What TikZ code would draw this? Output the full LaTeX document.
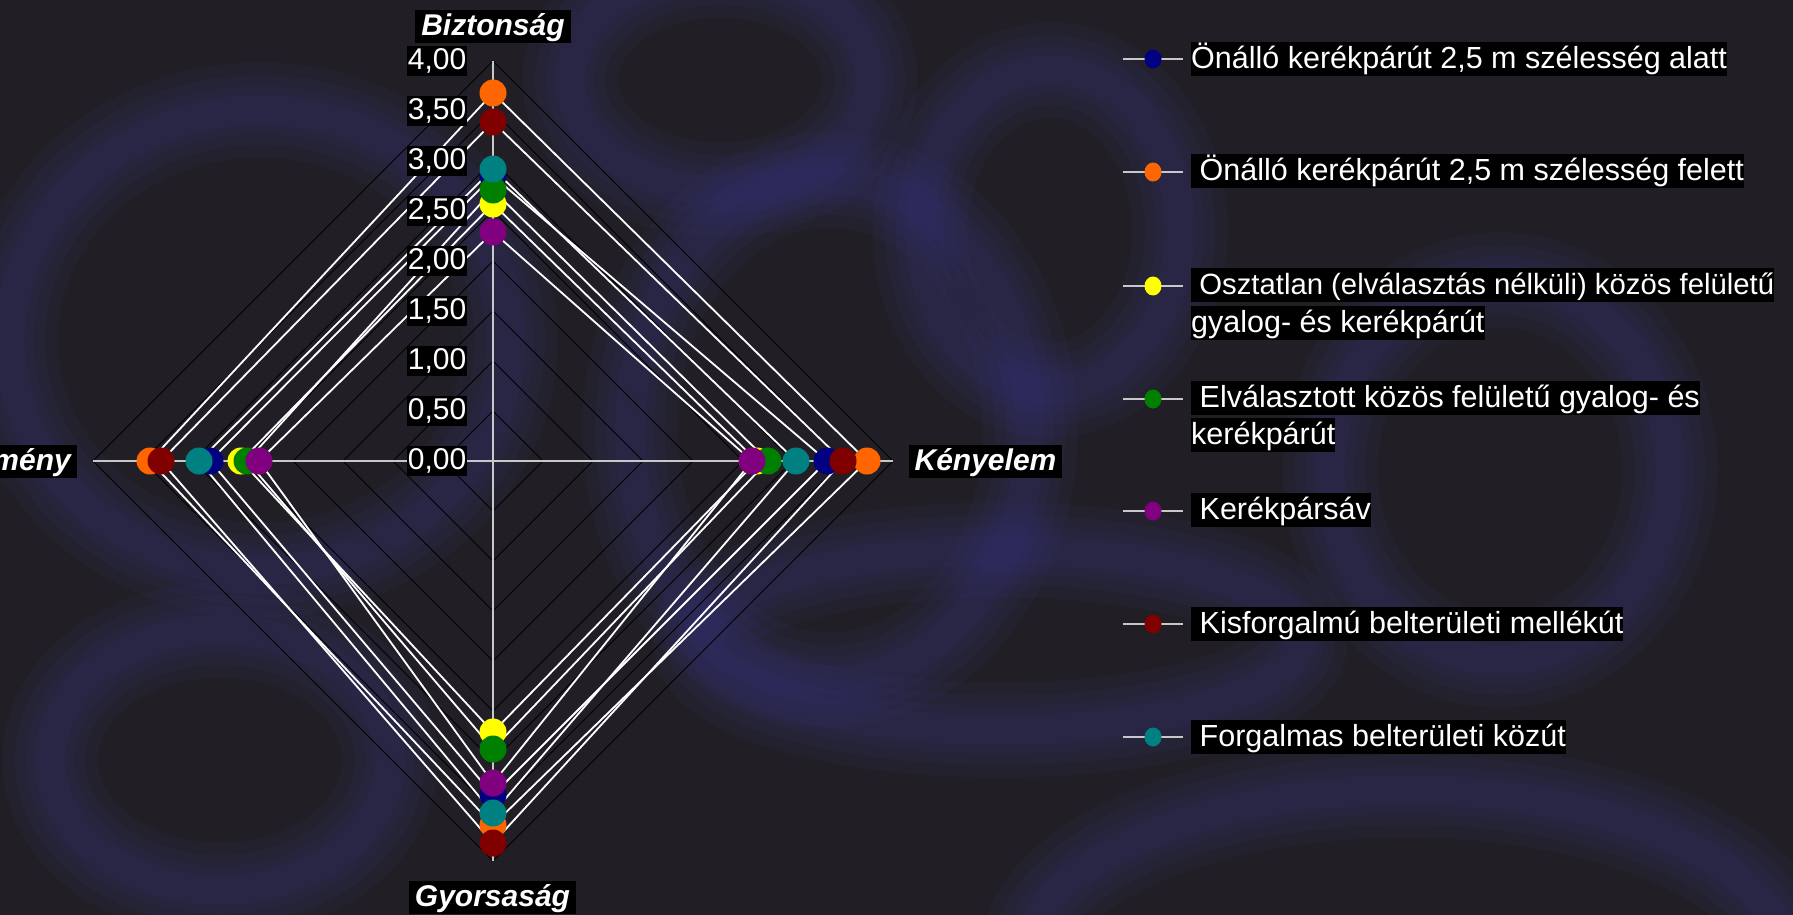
\documentclass[tikz,border=0pt]{standalone}
\usepackage{fontspec}
\setmainfont{Liberation Sans}
\usetikzlibrary{shapes.geometric}
\definecolor{bgc}{HTML}{211F25}
\definecolor{bluebg}{HTML}{3C3A8E}
\definecolor{cnavy}{HTML}{000080}
\definecolor{corange}{HTML}{FF6600}
\definecolor{cyellow}{HTML}{FFFF00}
\definecolor{cgreen}{HTML}{008000}
\definecolor{cpurple}{HTML}{800080}
\definecolor{cdred}{HTML}{800000}
\definecolor{cteal}{HTML}{008080}
\definecolor{axisgray}{HTML}{C8C8C8}
\tikzset{
  bgstroke/.style={draw=bluebg, line width=#1, opacity=0.09, line cap=round},
  gridline/.style={draw=black, line width=0.8pt},
  axisline/.style={draw=axisgray, line width=1.5pt},
  dataline/.style={draw=white, line width=1.8pt, line join=round},
  mk/.style={circle, inner sep=0pt, minimum size=27pt, draw=none},
  ylab/.style={fill=black, text=white, inner xsep=0.5pt, inner ysep=1.5pt, text height=22pt, text depth=5pt, font=\fontsize{30}{34}\selectfont, anchor=east},
  axlab/.style={fill=black, text=white, inner xsep=6pt, inner ysep=0pt, text height=26pt, text depth=7pt, font=\fontsize{30}{34}\selectfont\bfseries\itshape},
  legtext/.style={fill=black, text=white, inner sep=0pt, text height=26.5pt, text depth=7.5pt, anchor=west, font=\fontsize{30.5}{37}\selectfont},
  legline/.style={draw=axisgray, line width=1.5pt},
  legmk/.style={ellipse, inner sep=0pt, minimum width=17pt, minimum height=19pt, draw=none}
}
\begin{document}
\begin{tikzpicture}[x=1pt,y=-1pt]
\useasboundingbox (0,0) rectangle (1793,915);
\clip (0,0) rectangle (1793,915);
\fill[bgc] (0,0) rectangle (1793,915);
% background photo impression (blurred blue wheels)
\foreach \w in {95,70,48,30}{
  \draw[bgstroke=\w] (830,430) ellipse [x radius=200, y radius=250];
  \draw[bgstroke=\w] (260,340) ellipse [x radius=250, y radius=230];
  \draw[bgstroke=\w] (1406,960) ellipse [x radius=380, y radius=170];
  \draw[bgstroke=\w] (1500,470) ellipse [x radius=170, y radius=190];
  \draw[bgstroke=\w] (220,760) ellipse [x radius=170, y radius=130];
  \draw[bgstroke=\w] (720,80) ellipse [x radius=150, y radius=110];
  \draw[bgstroke=\w] (1050,230) ellipse [x radius=130, y radius=160];
  \draw[bgstroke=\w] (1000,640) ellipse [x radius=300, y radius=90];
}
% radar geometry
\coordinate (C) at (493,461);
\coordinate (T) at (493,61);
\coordinate (R) at (893,461);
\coordinate (B) at (493,861);
\coordinate (L) at (93,461);
\foreach \r in {50,100,...,400}
  \draw[gridline] (493,461-\r) -- (493+\r,461) -- (493,461+\r) -- (493-\r,461) -- cycle;
\draw[axisline] (C) -- (T);
\draw[axisline] (C) -- (R);
\draw[axisline] (C) -- (B);
\draw[axisline] (C) -- (L);
% data series: top / right / bottom / left
\foreach \n/\a/\b/\c/\d in {1/2.85/3.34/3.34/2.83, 2/3.68/3.74/3.64/3.43, 3/2.57/2.64/2.71/2.52, 4/2.71/2.75/2.88/2.46, 5/2.29/2.59/3.22/2.34, 6/3.39/3.50/3.82/3.32, 7/2.92/3.03/3.52/2.94}{
  \coordinate (s\n t) at (493,461-100*\a);
  \coordinate (s\n r) at (493+100*\b,461);
  \coordinate (s\n b) at (493,461+100*\c);
  \coordinate (s\n l) at (493-100*\d,461);
  \draw[dataline] (s\n t) -- (s\n r) -- (s\n b) -- (s\n l) -- cycle;
}
\foreach \n/\col in {1/cnavy, 2/corange, 3/cyellow, 4/cgreen, 5/cpurple, 6/cdred, 7/cteal}{
  \node[mk, fill=\col] (m\n t) at (s\n t) {};
  \node[mk, fill=\col] (m\n r) at (s\n r) {};
  \node[mk, fill=\col] (m\n b) at (s\n b) {};
  \node[mk, fill=\col] (m\n l) at (s\n l) {};
}
% value labels
\foreach \v/\t in {0/{0,00}, 50/{0,50}, 100/{1,00}, 150/{1,50}, 200/{2,00}, 250/{2,50}, 300/{3,00}, 350/{3,50}, 400/{4,00}}
  \node[ylab] (y\v) at (467,461-\v) {\t};
% axis labels
\node[axlab] (lb) at (493,26.5) {Biztonság};
\node[axlab] (lk) at (985.5,461) {Kényelem};
\node[axlab, anchor=east] (le) at (77,461) {mény};
\node[axlab] (lg) at (492.5,897) {Gyorsaság};
% legend
\foreach \n/\y/\col in {1/59/cnavy, 2/172/corange, 3/286/cyellow, 4/399/cgreen, 5/511/cpurple, 6/624/cdred, 7/737/cteal}{
  \coordinate (ga\n) at (1123,\y);
  \coordinate (gb\n) at (1183,\y);
  \draw[legline] (ga\n) -- (gb\n);
  \node[legmk, fill=\col] (gm\n) at (1153,\y) {};
}
\node[legtext] (t1) at (1191,59.5) {Önálló kerékpárút 2,5 m szélesség alatt};
\node[legtext] (t2) at (1191,170.5) {\ Önálló kerékpárút 2,5 m szélesség felett};
\node[legtext, font=\fontsize{29.3}{37}\selectfont] (t3) at (1191,285) {\ Osztatlan (elválasztás nélküli) közös felületű};
\node[legtext] (t3b) at (1191,322.5) {gyalog- és kerékpárút};
\node[legtext] (t4) at (1191,398) {\ Elválasztott közös felületű gyalog- és};
\node[legtext] (t4b) at (1191,435) {kerékpárút};
\node[legtext] (t5) at (1191,510) {\ Kerékpársáv};
\node[legtext] (t6) at (1191,624) {\ Kisforgalmú belterületi mellékút};
\node[legtext] (t7) at (1191,737) {\ Forgalmas belterületi közút};
\end{tikzpicture}
\end{document}
